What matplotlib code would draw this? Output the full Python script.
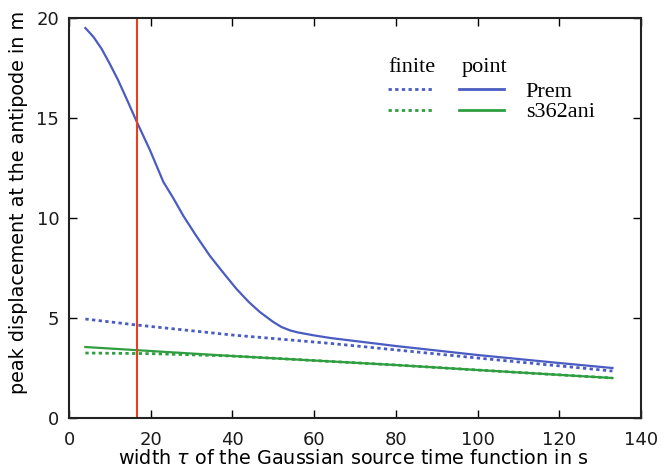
import matplotlib
matplotlib.use('Agg')
import matplotlib.pyplot as plt
import numpy as np

# point source, Prem
tau_point_prem = [4, 6, 8, 10, 12, 14, 16.6, 19.8, 23.1, 25.5, 28, 31, 34.5, 38, 41, 44,
                  46.7, 50, 52, 54.1, 56, 60, 64, 80, 100, 120, 133]
amp_point_prem = [19.5, 19.05, 18.45, 17.7, 16.9, 16.0, 14.8, 13.4, 11.8, 11.0, 10.1, 9.15,
                  8.1, 7.2, 6.45, 5.8, 5.3, 4.8, 4.55, 4.38, 4.28, 4.13, 4.0, 3.6, 3.15, 2.75, 2.5]
# finite source, Prem
tau_finite_prem = [4, 16.6, 40, 64, 100, 133]
amp_finite_prem = [4.95, 4.65, 4.15, 3.73, 3.0, 2.35]
# point source, s362ani
tau_point_s362 = [4, 40, 80, 100, 133]
amp_point_s362 = [3.55, 3.1, 2.65, 2.4, 2.0]
# finite source, s362ani
tau_finite_s362 = [4, 20, 40, 80, 100, 133]
amp_finite_s362 = [3.25, 3.22, 3.1, 2.65, 2.4, 2.0]

tau_marker = 16.7

blue = '#4a5cc2'
green = '#2f9e40'
red = '#e8401e'

fig = plt.figure(figsize=(6.65, 4.68), dpi=100, facecolor='white')
ax = fig.add_axes([0.1038, 0.1068, 0.8602, 0.8547])

dot = (0, (1.2, 1.2))
ax.plot(tau_finite_prem, amp_finite_prem, color=blue, linestyle=dot, linewidth=2)
ax.plot(tau_finite_s362, amp_finite_s362, color=green, linestyle=dot, linewidth=2)
ax.plot(tau_point_prem, amp_point_prem, color=blue, linewidth=1.6)
ax.plot(tau_point_s362, amp_point_s362, color=green, linewidth=1.6)
ax.axvline(tau_marker, color=red, linewidth=1.5)

ax.set_xlim(0, 140)
ax.set_ylim(0, 20)
ax.set_xticks(np.arange(0, 141, 20))
ax.set_yticks(np.arange(0, 21, 5))
ax.tick_params(direction='in', top=True, right=True, length=6, width=1, labelsize=13,
               labelcolor='#1a1a1a')
ax.tick_params(axis='x', pad=9)
ax.tick_params(axis='y', pad=7)
for s in ax.spines.values():
    s.set_linewidth(1.5)
    s.set_color('#222222')

ax.set_xlabel(r'width $\tau$ of the Gaussian source time function in s', fontsize=13.8)
ax.set_ylabel('peak displacement at the antipode in m', fontsize=13.8)
ax.xaxis.set_label_coords(0.497, -0.078)
ax.yaxis.set_label_coords(-0.072, 0.54)

# legend: finite (dotted) / point (solid)
h_fp, = ax.plot([], [], color=blue, linestyle=dot, linewidth=2)
h_fs, = ax.plot([], [], color=green, linestyle=dot, linewidth=2)
h_pp, = ax.plot([], [], color=blue, linewidth=2)
h_ps, = ax.plot([], [], color=green, linewidth=2)
ax.legend([h_fp, h_fs, h_pp, h_ps], ['', '', 'Prem', 's362ani'], ncol=2,
          loc='upper left', bbox_to_anchor=(0.557, 0.842), frameon=False,
          prop={'family': 'Liberation Serif', 'size': 16},
          handlelength=2.0, handletextpad=1.0, columnspacing=0.22,
          labelspacing=0.0, borderpad=0, borderaxespad=0)
ax.text(0.558, 0.877, 'finite', transform=ax.transAxes, family='Liberation Serif',
        fontsize=16, va='center', ha='left')
ax.text(0.686, 0.877, 'point', transform=ax.transAxes, family='Liberation Serif',
        fontsize=16, va='center', ha='left')

fig.savefig('out.png', dpi=100, facecolor='white')
